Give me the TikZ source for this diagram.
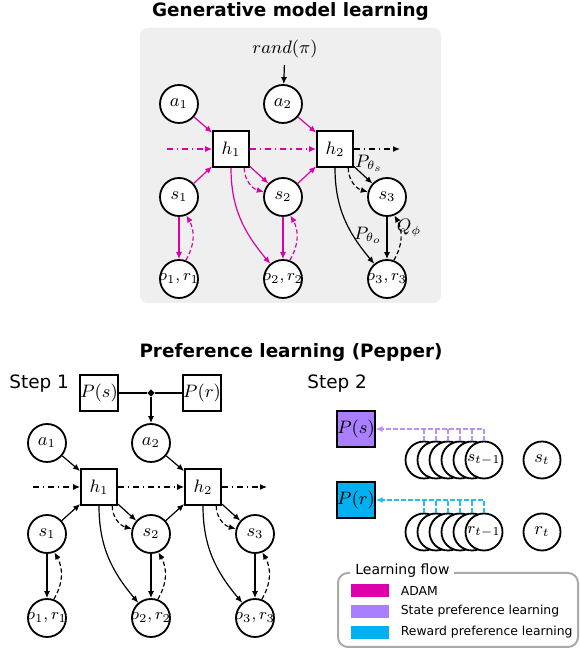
\documentclass[tikz,border=0pt]{standalone}
\usepackage[no-math]{fontspec}
\setmainfont{DejaVu Sans}
\usepackage{amsmath}
\usetikzlibrary{arrows.meta,positioning,shapes.geometric}

\definecolor{adam}{RGB}{221,0,170}
\definecolor{statepref}{RGB}{170,127,255}
\definecolor{rewardpref}{RGB}{0,176,240}
\definecolor{panelgray}{RGB}{239,239,239}
\definecolor{framegray}{RGB}{170,170,170}

\begin{document}
\begin{tikzpicture}[x=0.5pt,y=0.5pt,>={Latex[length=3.5pt,width=3pt]},
    mathfont/.style={font=\fontsize{9}{10}\selectfont},
    var/.style={circle,draw,line width=0.9pt,fill=white,minimum size=19pt,
                inner sep=-1pt,mathfont},
    obs/.style={var,font=\fontsize{8.2}{9}\selectfont},
    fac/.style={rectangle,draw,line width=0.9pt,fill=white,minimum size=18pt,
                inner sep=0pt,mathfont},
    edge/.style={->,line width=0.6pt},
    back/.style={->,line width=0.6pt,dash pattern=on 2.2pt off 1.3pt},
    recur/.style={->,line width=0.6pt,dash dot},
    prefline/.style={line width=0.6pt,dash pattern=on 2.2pt off 1.3pt},
    heading/.style={font=\fontsize{9.2}{11}\selectfont\bfseries,anchor=base},
    steplabel/.style={font=\fontsize{9.2}{11}\selectfont,anchor=base west,inner sep=0pt},
    swatch/.style={rectangle,minimum width=19pt,minimum height=6.5pt,inner sep=0pt},
    legtext/.style={font=\fontsize{6.2}{7}\selectfont,inner sep=0pt,anchor=west}]

  \fill[white] (0,0) rectangle (579,651);
  \useasboundingbox (0,0) rectangle (579,651);

  % --- Generative model learning ---
  \node[heading] (gentitle) at (290.5,634.5) {Generative model learning};
  \fill[panelgray,rounded corners=4pt] (140,348) rectangle (441,623);

  \node[mathfont] (rand) at (285,602) {$rand(\pi)$};
  \node[var] (ga1) at (179,547) {$a_1$};
  \node[var] (ga2) at (283,547) {$a_2$};
  \node[fac] (gh1) at (231,502) {$h_1$};
  \node[fac] (gh2) at (335,502) {$h_2$};
  \node[var] (gs1) at (179,454) {$s_1$};
  \node[var] (gs2) at (283,454) {$s_2$};
  \node[var] (gs3) at (387,454) {$s_3$};
  \node[obs] (go1) at (179,372) {$o_1,r_1$};
  \node[obs] (go2) at (283,372) {$o_2,r_2$};
  \node[obs] (go3) at (387,372) {$o_3,r_3$};
  \coordinate (gin)  at (167,502);
  \coordinate (gout) at (400,502);

  \draw[edge] (rand) -- (ga2);

  % trained with ADAM
  \begin{scope}[color=adam]
    \draw[recur] (gin) -- (gh1);
    \draw[recur] (gh1) -- (gh2);
    \draw[edge] (ga1) -- (gh1);
    \draw[edge] (ga2) -- (gh2);
    \draw[edge] (gs1) -- (gh1);
    \draw[edge] (gs2) -- (gh2);
    \draw[edge] (gh1) -- (gs2);
    \draw[back] (gh1.-55) to[out=-90,in=165] (gs2);
    \draw[edge] (gh1.south) to[out=-90,in=130] (go2);
    \foreach \k in {1,2} {
      \draw[edge] (gs\k) -- (go\k);
      \draw[back] (go\k.70) to[bend right=30] (gs\k.-68);
    }
  \end{scope}

  % last step: prior, likelihood and posterior
  \draw[recur] (gh2) -- (gout);
  \draw[edge] (gh2) -- (gs3);
  \draw[back] (gh2.-55) to[out=-90,in=165] (gs3);
  \draw[edge] (gh2.south) to[out=-90,in=130] (go3);
  \draw[edge] (gs3) -- (go3);
  \draw[back] (go3.70) to[bend right=30] (gs3.-68);
  \node[mathfont] (pths) at (369,488) {$P_{\theta_s}$};
  \node[mathfont] (ptho) at (368,416) {$P_{\theta_o}$};
  \node[mathfont] (qphi) at (409,423) {$Q_\phi$};

  % --- Preference learning (Pepper) ---
  \node[heading] (preftitle) at (291,293) {Preference learning (Pepper)};

  % step 1: the preferences feed the action
  \node[steplabel] (step1) at (9,262) {Step 1};
  \node[fac] (ps) at (99,258) {$P(s)$};
  \node[fac] (pr) at (202,258) {$P(r)$};
  \node[diamond,fill,inner sep=0pt,minimum size=3.8pt] (junc) at (151,258) {};
  \node[var] (pa1) at (47,208) {$a_1$};
  \node[var] (pa2) at (151,208) {$a_2$};
  \node[fac] (ph1) at (99,164) {$h_1$};
  \node[fac] (ph2) at (203,164) {$h_2$};
  \node[var] (ps1) at (47,117) {$s_1$};
  \node[var] (ps2) at (151,117) {$s_2$};
  \node[var] (ps3) at (255,117) {$s_3$};
  \node[obs] (po1) at (47,33) {$o_1,r_1$};
  \node[obs] (po2) at (151,33) {$o_2,r_2$};
  \node[obs] (po3) at (255,33) {$o_3,r_3$};
  \coordinate (pin)  at (33,164);
  \coordinate (pout) at (267,164);

  \draw[line width=0.6pt] (ps) -- (junc) -- (pr);
  \draw[edge] (junc) -- (pa2);
  \draw[recur] (pin) -- (ph1);
  \draw[recur] (ph1) -- (ph2);
  \draw[recur] (ph2) -- (pout);
  \draw[edge] (pa1) -- (ph1);
  \draw[edge] (pa2) -- (ph2);
  \draw[edge] (ps1) -- (ph1);
  \draw[edge] (ps2) -- (ph2);
  \foreach \k/\n in {1/2,2/3} {
    \draw[edge] (ph\k) -- (ps\n);
    \draw[back] (ph\k.-55) to[out=-90,in=165] (ps\n);
    \draw[edge] (ph\k.south) to[out=-90,in=130] (po\n);
  }
  \foreach \k in {1,2,3} {
    \draw[edge] (ps\k) -- (po\k);
    \draw[back] (po\k.70) to[bend right=30] (ps\k.-68);
  }

  % step 2: past states and rewards update the preferences
  \node[steplabel] (step2) at (307,262) {Step 2};
  \node[fac,fill=statepref] (sp) at (356,222) {$P(s)$};
  \node[fac,fill=rewardpref] (rp) at (356,151) {$P(r)$};
  \foreach \i/\x in {1/424,2/436,3/448,4/460,5/472} {
    \node[var,minimum size=18.5pt] (sh\i) at (\x,191) {};
    \node[var,minimum size=18.5pt] (rh\i) at (\x,119) {};
  }
  \node[obs,minimum size=18.5pt] (sh6) at (484,191) {$s_{t-1}$};
  \node[obs,minimum size=18.5pt] (rh6) at (484,119) {$r_{t-1}$};
  \node[var,minimum size=18.5pt] (st) at (542,191) {$s_t$};
  \node[var,minimum size=18.5pt] (rt) at (542,119) {$r_t$};

  \foreach \i in {1,...,5} {
    \draw[prefline,statepref!85] (sh\i.north) -- (sh\i.north |- sp.east);
    \draw[prefline,rewardpref!85] (rh\i.north) -- (rh\i.north |- rp.east);
  }
  \draw[prefline,->,statepref!85] (sh6.north) |- (sp.east);
  \draw[prefline,->,rewardpref!85] (rh6.north) |- (rp.east);

  % --- Legend ---
  \draw[framegray,line width=1pt,rounded corners=5pt] (338,4) rectangle (578,78);
  \node[fill=white,font=\fontsize{7}{8}\selectfont,inner sep=2.5pt,anchor=west]
    (flowtitle) at (350,80) {Learning flow};
  \node[swatch,fill=adam] (swadam) at (370,60.5) {};
  \node[swatch,fill=statepref] (swstate) at (370,39.5) {};
  \node[swatch,fill=rewardpref] (swreward) at (370,18.5) {};
  \node[legtext,right=5.5pt of swadam] (ladam) {ADAM};
  \node[legtext,right=5.5pt of swstate] (lstate) {State preference learning};
  \node[legtext,right=5.5pt of swreward] (lreward) {Reward preference learning};

\end{tikzpicture}
\end{document}
